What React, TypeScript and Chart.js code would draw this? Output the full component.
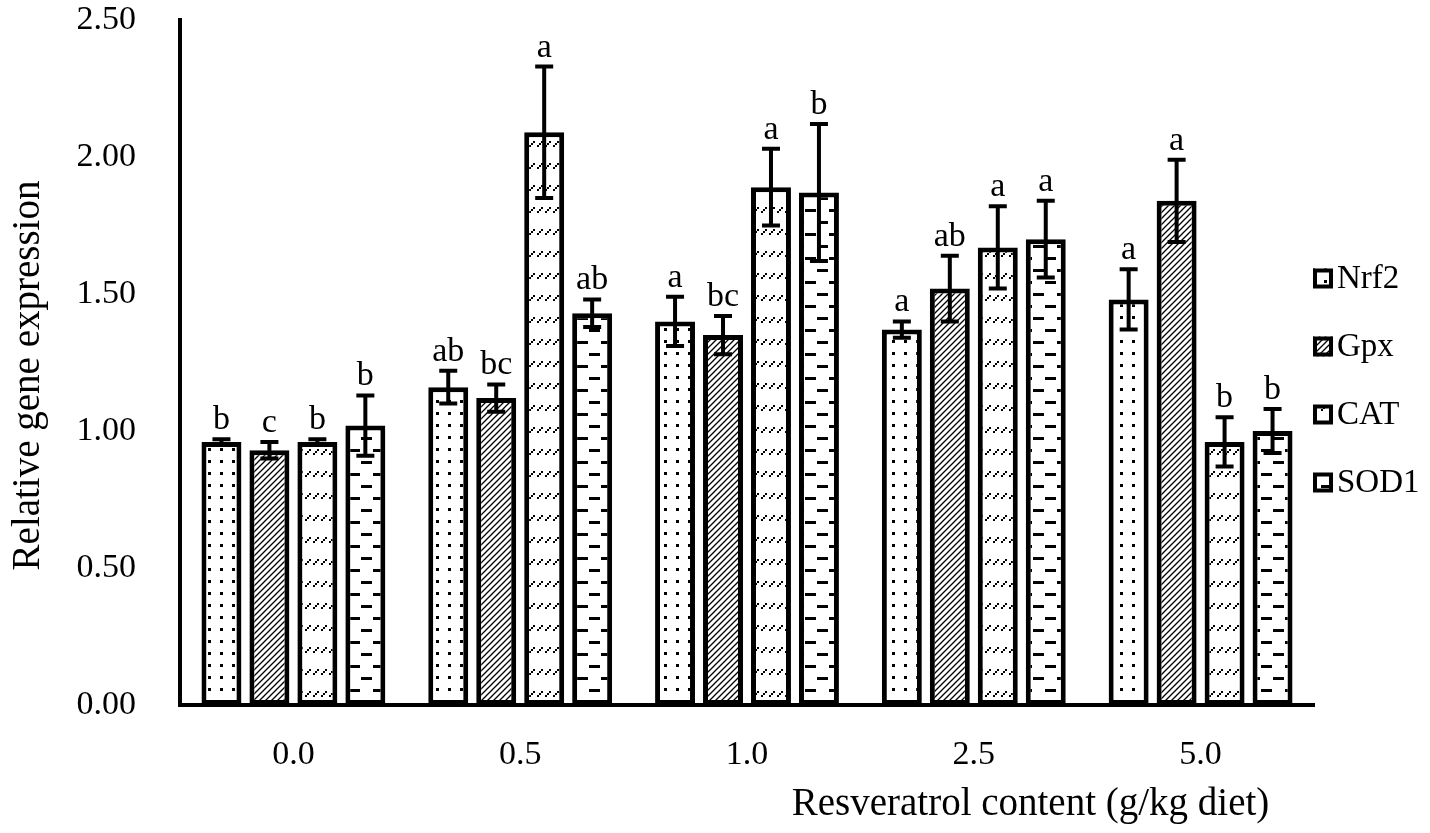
import { useEffect, useRef } from "react";
import { Chart, registerables } from "chart.js";
import type { Plugin } from "chart.js";

Chart.register(...registerables);

const categories = ["0.0", "0.5", "1.0", "2.5", "5.0"];
const seriesNames = ["Nrf2", "Gpx", "CAT", "SOD1"];

const nrf2Values = [0.96, 1.16, 1.4, 1.37, 1.48];
const nrf2Errors = [0.01, 0.06, 0.09, 0.03, 0.11];
const nrf2Letters = ["b", "ab", "a", "a", "a"];

const gpxValues = [0.93, 1.12, 1.35, 1.52, 1.84];
const gpxErrors = [0.03, 0.05, 0.07, 0.12, 0.15];
const gpxLetters = ["c", "bc", "bc", "ab", "a"];

const catValues = [0.96, 2.09, 1.89, 1.67, 0.96];
const catErrors = [0.01, 0.24, 0.14, 0.15, 0.09];
const catLetters = ["b", "a", "a", "a", "b"];

const sod1Values = [1.02, 1.43, 1.87, 1.7, 1.0];
const sod1Errors = [0.11, 0.05, 0.25, 0.14, 0.08];
const sod1Letters = ["b", "ab", "b", "a", "b"];

const yMin = 0;
const yMax = 2.5;
const yStep = 0.5;

const yTitle = "Relative gene expression";
const xTitle = "Resveratrol content (g/kg diet)";

const FONT = '"Liberation Serif", "Times New Roman", serif';

function makePattern(kind: string): CanvasPattern | string {
    const c = document.createElement("canvas");
    let w = 24;
    let h = 24;
    if (kind === "lines") {
        w = 6;
        h = 6;
    } else if (kind === "dots") {
        w = 12;
        h = 12;
    } else if (kind === "slashes") {
        w = 8;
        h = 22;
    }
    c.width = w;
    c.height = h;
    const g = c.getContext("2d");
    if (!g) return "#fff";
    g.fillStyle = "#fff";
    g.fillRect(0, 0, w, h);
    g.fillStyle = "#000";
    g.strokeStyle = "#000";
    if (kind === "dots") {
        g.fillRect(4, 4, 3, 3);
    } else if (kind === "lines") {
        g.lineWidth = 1.3;
        g.beginPath();
        g.moveTo(0, 6);
        g.lineTo(6, 0);
        g.moveTo(-1, 1);
        g.lineTo(1, -1);
        g.moveTo(5, 7);
        g.lineTo(7, 5);
        g.stroke();
    } else if (kind === "slashes") {
        g.fillRect(1, 13, 2, 2);
        g.fillRect(3, 11, 2, 2);
        g.fillRect(5, 9, 2, 2);
    } else if (kind === "dashes") {
        g.fillRect(1, 5, 11, 3);
        g.fillRect(13, 17, 11, 3);
    }
    return g.createPattern(c, "repeat") ?? "#fff";
}

const errorBarPlugin: Plugin<"bar"> = {
    id: "errorBars",
    afterDatasetsDraw(chart) {
        const { ctx } = chart;
        const y = chart.scales.y;
        chart.data.datasets.forEach((ds: any, di) => {
            const meta = chart.getDatasetMeta(di);
            meta.data.forEach((bar: any, i) => {
                const v = ds.data[i] as number;
                const e = ds.errors[i] as number;
                const yTop = y.getPixelForValue(v + e);
                const yBot = y.getPixelForValue(v - e);
                const x = bar.x;
                ctx.save();
                ctx.strokeStyle = "#000";
                ctx.lineWidth = 4;
                ctx.beginPath();
                ctx.moveTo(x, yTop);
                ctx.lineTo(x, yBot);
                ctx.moveTo(x - 9, yTop);
                ctx.lineTo(x + 9, yTop);
                ctx.moveTo(x - 9, yBot);
                ctx.lineTo(x + 9, yBot);
                ctx.stroke();
                ctx.fillStyle = "#000";
                ctx.font = `34px ${FONT}`;
                ctx.textAlign = "center";
                ctx.textBaseline = "alphabetic";
                ctx.fillText(ds.letters[i], x, yTop - 10);
                ctx.restore();
            });
        });
    },
};

const decorPlugin: Plugin<"bar"> = {
    id: "decor",
    afterDraw(chart) {
        const { ctx, chartArea } = chart;
        const mid = (chartArea.top + chartArea.bottom) / 2 + 18;
        const gap = 68;
        ctx.save();
        chart.data.datasets.forEach((ds: any, i) => {
            const cy = mid + (i - 1.5) * gap;
            const bx = chartArea.right - 1;
            ctx.fillStyle = ds.backgroundColor;
            ctx.fillRect(bx, cy - 10, 20, 20);
            ctx.lineWidth = 4;
            ctx.strokeStyle = "#000";
            ctx.strokeRect(bx + 2, cy - 8, 16, 16);
            ctx.fillStyle = "#000";
            ctx.font = `33px ${FONT}`;
            ctx.textAlign = "left";
            ctx.textBaseline = "middle";
            ctx.fillText(ds.label, bx + 24, cy + 1);
        });
        ctx.fillStyle = "#000";
        ctx.textAlign = "center";
        ctx.textBaseline = "middle";
        ctx.font = `39px ${FONT}`;
        const cx = chartArea.left + 0.75 * (chartArea.right - chartArea.left);
        ctx.fillText(xTitle, cx, chart.height - 28);
        ctx.translate(29, (chartArea.top + chartArea.bottom) / 2 + 13);
        ctx.rotate(-Math.PI / 2);
        ctx.fillText(yTitle, 0, 0);
        ctx.restore();
    },
};

export default function App() {
    const canvasRef = useRef<HTMLCanvasElement | null>(null);
    const chartRef = useRef<Chart | null>(null);

    useEffect(() => {
        const canvas = canvasRef.current;
        if (!canvas) {
            return;
        }
        if (chartRef.current) {
            chartRef.current.destroy();
        }

        const kinds = ["dots", "lines", "slashes", "dashes"];
        const values = [nrf2Values, gpxValues, catValues, sod1Values];
        const errors = [nrf2Errors, gpxErrors, catErrors, sod1Errors];
        const letters = [nrf2Letters, gpxLetters, catLetters, sod1Letters];

        const datasets: any[] = seriesNames.map((name, i) => ({
            label: name,
            data: values[i],
            errors: errors[i],
            letters: letters[i],
            backgroundColor: makePattern(kinds[i]),
            borderColor: "#000",
            borderWidth: 5,
            borderSkipped: false,
            categoryPercentage: 0.846,
            barPercentage: 0.833,
        }));

        chartRef.current = new Chart(canvas, {
            type: "bar",
            data: { labels: categories, datasets },
            options: {
                responsive: true,
                maintainAspectRatio: false,
                animation: false,
                layout: { padding: { top: 0, right: 116, left: 0, bottom: 0 } },
                scales: {
                    x: {
                        grid: { display: false },
                        border: { display: true, color: "#000", width: 4 },
                        ticks: {
                            color: "#000",
                            padding: 22,
                            font: { family: FONT, size: 34 },
                        },
                        afterFit: (scale) => {
                            scale.height = 128;
                        },
                    },
                    y: {
                        min: yMin,
                        max: yMax,
                        grid: { display: false },
                        border: { display: true, color: "#000", width: 4 },
                        ticks: {
                            stepSize: yStep,
                            color: "#000",
                            padding: 36,
                            font: { family: FONT, size: 34 },
                            callback: (v) => Number(v).toFixed(2),
                        },
                        afterFit: (scale: any) => {
                            scale.width = 180;
                            scale.paddingTop = 20;
                            scale.paddingBottom = 0;
                        },
                    },
                },
                plugins: {
                    legend: { display: false },
                    tooltip: { enabled: false },
                },
            },
            plugins: [errorBarPlugin, decorPlugin],
        });

        return () => {
            if (chartRef.current) {
                chartRef.current.destroy();
                chartRef.current = null;
            }
        };
    }, []);

    return (
        <div
            style={{
                position: "absolute",
                left: 0,
                top: 0,
                width: 1430,
                height: 833,
                background: "#fff",
            }}
        >
            <canvas ref={canvasRef} />
        </div>
    );
}
